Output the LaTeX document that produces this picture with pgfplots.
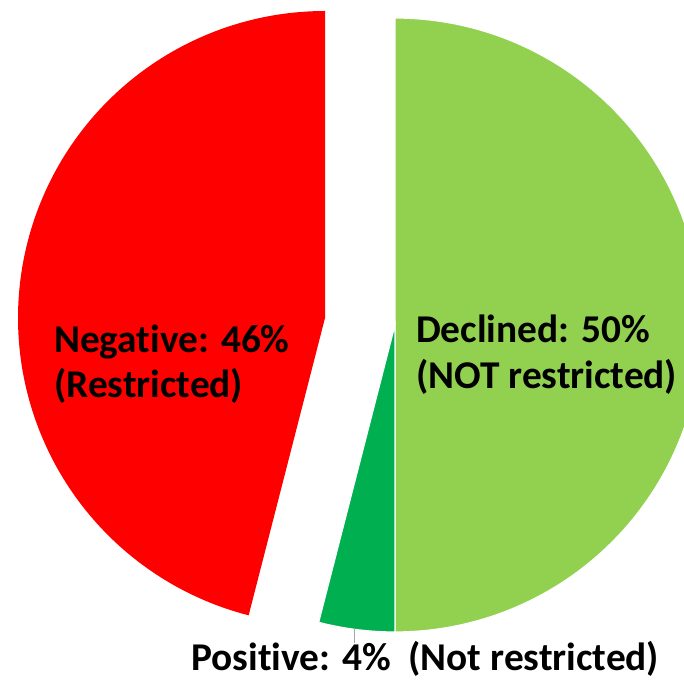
\documentclass[border=0pt]{standalone}
\usepackage{pgfplots}
\pgfplotsset{compat=1.18}
\usepackage{fontspec}
\setmainfont[RawFeature=-liga]{Carlito}
\definecolor{negred}{RGB}{255,0,0}
\definecolor{declgreen}{RGB}{146,208,80}
\definecolor{posgreen}{RGB}{0,176,80}

% shares in percent, clockwise from 12 o'clock
\def\Declined{50}
\def\Positive{4}
\def\Negative{46}

\begin{document}
\begin{tikzpicture}
\pgfmathsetmacro{\aA}{90}
\pgfmathsetmacro{\aB}{90-3.6*\Declined}
\pgfmathsetmacro{\aC}{\aB-3.6*\Positive}
\pgfmathsetmacro{\aD}{\aC-3.6*\Negative}
\begin{axis}[hide axis, scale only axis,
  width=684bp, height=681bp,
  xmin=0, xmax=684, ymin=0, ymax=681, clip=true]
% Declined
\addplot[draw=white, line width=1.2bp, fill=declgreen, domain=\aB:\aA, samples=150, variable=\t]
  ({395+307*cos(\t)}, {356+307*sin(\t)}) -- (axis cs:395,356) -- cycle;
% Positive
\addplot[draw=white, line width=1.2bp, fill=posgreen, domain=\aC:\aB, samples=20, variable=\t]
  ({395+307*cos(\t)}, {356+307*sin(\t)}) -- (axis cs:395,356) -- cycle;
% Negative (pulled out)
\addplot[draw=none, fill=negred, domain=\aD:\aC, samples=150, variable=\t]
  ({325+307*cos(\t)}, {363+307*sin(\t)}) -- (axis cs:325,363) -- cycle;
% leader line of the small slice
\addplot[gray!70, line width=0.8bp] coordinates {(354,52) (354,38)};
\end{axis}
\begin{scope}[x=1bp, y=1bp, every node/.style={inner sep=0pt, anchor=base west, font=\bfseries\fontsize{39.5}{46}\selectfont}]
\node at (416,339) {Declined: 50\%};
\node at (416,293) {(NOT restricted)};
\node at (54,329) {Negative: 46\%};
\node at (54,284) {(Restricted)};
\node at (191,11) {Positive: 4\%\ \ (Not restricted)};
\end{scope}
\pgfresetboundingbox
\path (0,0) rectangle (684bp,681bp);
\end{tikzpicture}
\end{document}
